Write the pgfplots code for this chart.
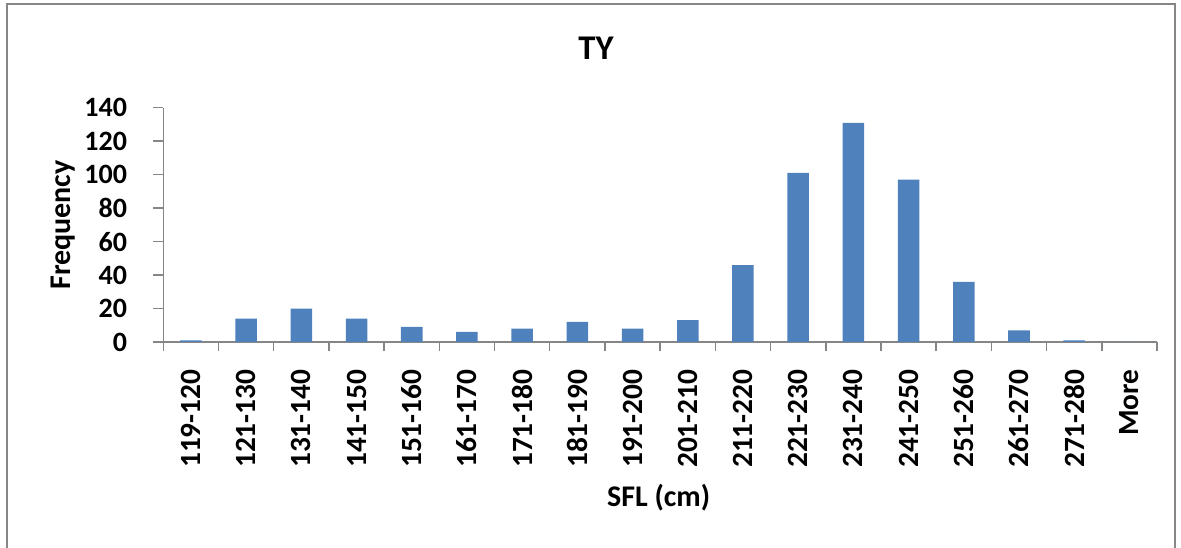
\documentclass[border=0pt]{standalone}
\usepackage{fontspec}
\setmainfont{Carlito}
\usepackage{pgfplots}
\pgfplotsset{compat=1.18}
\definecolor{barblue}{HTML}{4F81BD}
\definecolor{axgray}{HTML}{868686}
\begin{document}
\begin{tikzpicture}
\useasboundingbox (0,0) rectangle (885.75pt,-411pt);
\draw[axgray, line width=0.9pt] (5.25pt,-430pt) -- (5.25pt,-3pt) -- (881.25pt,-3pt) -- (881.25pt,-430pt);
\begin{axis}[
  at={(122.5pt,-256.5pt)}, anchor=south west,
  width=745.25pt, height=175.7pt, scale only axis,
  xmin=-0.5, xmax=17.5, ymin=0, ymax=140,
  axis lines=left,
  axis line style={-, axgray, line width=1.1pt},
  ytick={0,20,...,140},
  xtick={0,1,...,17},
  xticklabels={119-120,121-130,131-140,141-150,151-160,161-170,171-180,181-190,191-200,201-210,211-220,221-230,231-240,241-250,251-260,261-270,271-280,More},
  minor xtick={-0.5,0.5,...,17.5},
  major x tick style={draw=none},
  minor x tick style={axgray, line width=1.1pt},
  y tick style={axgray, line width=1.1pt},
  tick align=outside,
  major tick length=7.5pt, minor tick length=7pt,
  /pgf/number format/assume math mode=true,
  yticklabel style={font=\bfseries\fontsize{21}{21}\selectfont, anchor=east, inner sep=0pt, xshift=-19.5pt},
  xticklabel style={font=\bfseries\fontsize{22}{22}\selectfont, rotate=90, anchor=east, inner sep=0pt, xshift=-13pt},
  ybar, bar width=0.39,
]
\addplot[fill=barblue, draw=none] coordinates {
(0,1) (1,14) (2,20) (3,14) (4,9) (5,6) (6,8) (7,12) (8,8) (9,13)
(10,46) (11,101) (12,131) (13,97) (14,36) (15,7) (16,1) (17,0)
};
\end{axis}
\node[anchor=base, font=\bfseries\fontsize{26}{26}\selectfont] at (447pt,-45pt) {TY};
\node[anchor=base, font=\bfseries\fontsize{22.5}{22.5}\selectfont] at (494pt,-380.25pt) {SFL (cm)};
\node[anchor=base, rotate=90, font=\bfseries\fontsize{22.5}{22.5}\selectfont] at (52.5pt,-168.75pt) {Frequency};
\end{tikzpicture}
\end{document}
